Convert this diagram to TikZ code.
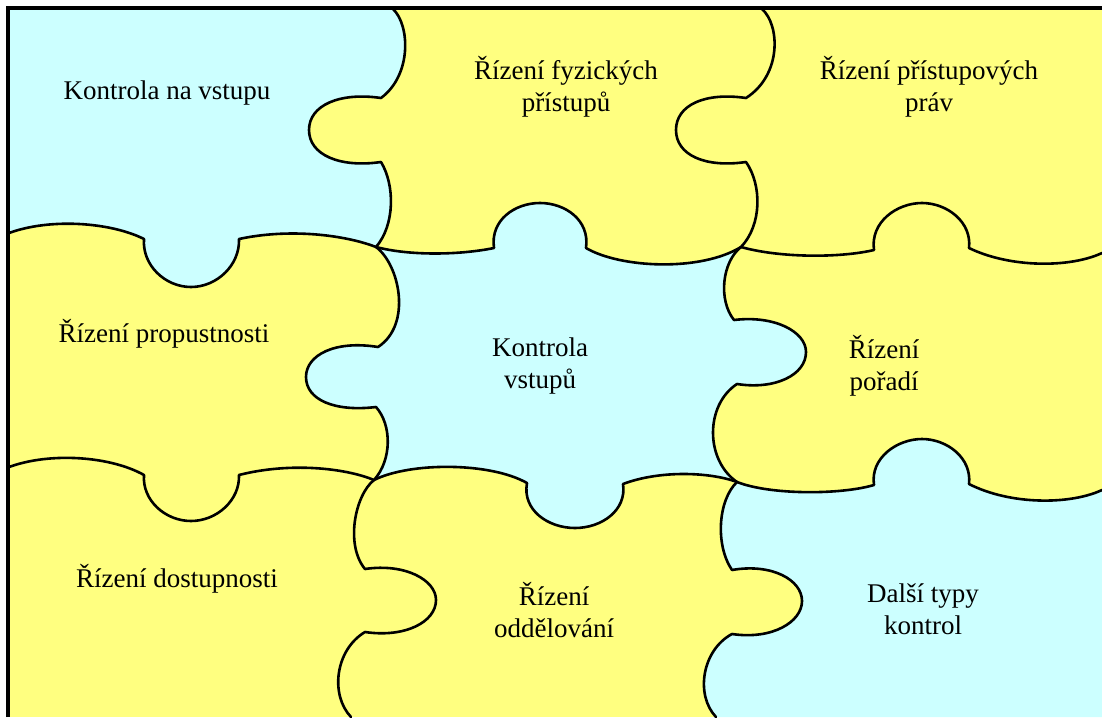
\documentclass[tikz,border=0pt]{standalone}
\usepackage{fontspec}
\setmainfont{Liberation Serif}
\definecolor{pyellow}{HTML}{FFFF80}
\definecolor{pcyan}{HTML}{CCFFFF}
\begin{document}
\begin{tikzpicture}[x=1pt,y=-1pt,
  seam/.style={line width=2.6pt, line join=round, line cap=round},
  frameline/.style={line width=3.6pt},
  lbl/.style={font=\fontsize{27}{32}\selectfont, align=center, inner sep=0pt, text=black}]
\useasboundingbox (0,0) rectangle (1102,717);
\fill[white] (0,0) rectangle (1102,717);
\fill[pyellow] (9,9) rectangle (1102,717);
% top-left cyan piece
\fill[pcyan] (9,9) -- (393,9)
  .. controls (410,25) and (412,75) .. (381,98)
  .. controls (340,92) and (309,105) .. (309,130)
  .. controls (309,155) and (340,168) .. (381,162)
  .. controls (395,185) and (395,225) .. (376,247)
  .. controls (345,235) and (290,228) .. (239,239)
  .. controls (240,265) and (217,287) .. (191,287)
  .. controls (165,287) and (142,265) .. (144,239)
  .. controls (110,222) and (50,218) .. (9,233) -- cycle;
% center cyan piece
\fill[pcyan] (376,247)
  .. controls (410,256) and (460,255) .. (494,248)
  .. controls (490,220) and (515,203) .. (540,203)
  .. controls (565,203) and (590,220) .. (586,248)
  .. controls (620,268) and (700,272) .. (741,247)
  .. controls (722,262) and (718,300) .. (734,320)
  .. controls (775,315) and (806,332) .. (806,352)
  .. controls (806,375) and (775,390) .. (737,384)
  .. controls (705,405) and (705,460) .. (737,482)
  .. controls (710,472) and (660,470) .. (623,484)
  .. controls (627,510) and (602,528) .. (575,528)
  .. controls (548,528) and (522,510) .. (527,483)
  .. controls (490,462) and (410,462) .. (374,480)
  .. controls (392,460) and (392,425) .. (376,407)
  .. controls (335,412) and (306,400) .. (306,377)
  .. controls (306,355) and (335,340) .. (378,347)
  .. controls (412,325) and (400,265) .. (376,247) -- cycle;
% bottom-right cyan piece
\fill[pcyan] (737,482)
  .. controls (770,495) and (840,495) .. (874,485)
  .. controls (870,458) and (897,439) .. (922,439)
  .. controls (947,439) and (972,458) .. (969,484)
  .. controls (1010,505) and (1070,505) .. (1102,490)
  -- (1102,717) -- (716,717)
  .. controls (695,695) and (702,650) .. (732,634)
  .. controls (772,640) and (802,622) .. (802,601)
  .. controls (802,580) and (772,563) .. (732,570)
  .. controls (715,545) and (718,500) .. (737,482) -- cycle;
% seams
\draw[seam] (393,9)
  .. controls (410,25) and (412,75) .. (381,98)
  .. controls (340,92) and (309,105) .. (309,130)
  .. controls (309,155) and (340,168) .. (381,162)
  .. controls (395,185) and (395,225) .. (376,247)
  .. controls (400,265) and (412,325) .. (378,347)
  .. controls (335,340) and (306,355) .. (306,377)
  .. controls (306,400) and (335,412) .. (376,407)
  .. controls (392,425) and (392,460) .. (374,480)
  .. controls (355,495) and (345,545) .. (365,569)
  .. controls (405,563) and (436,580) .. (436,600)
  .. controls (436,622) and (405,638) .. (365,632)
  .. controls (335,650) and (330,695) .. (351,717);
\draw[seam] (762,9)
  .. controls (780,25) and (782,75) .. (746,98)
  .. controls (705,92) and (676,105) .. (676,130)
  .. controls (676,155) and (705,168) .. (746,162)
  .. controls (762,185) and (762,225) .. (741,247)
  .. controls (722,262) and (718,300) .. (734,320)
  .. controls (775,315) and (806,332) .. (806,352)
  .. controls (806,375) and (775,390) .. (737,384)
  .. controls (705,405) and (705,460) .. (737,482)
  .. controls (718,500) and (715,545) .. (732,570)
  .. controls (772,563) and (802,580) .. (802,601)
  .. controls (802,622) and (772,640) .. (732,634)
  .. controls (702,650) and (695,695) .. (716,717);
\draw[seam] (9,233)
  .. controls (50,218) and (110,222) .. (144,239)
  .. controls (142,265) and (165,287) .. (191,287)
  .. controls (217,287) and (240,265) .. (239,239)
  .. controls (290,228) and (345,235) .. (376,247)
  .. controls (410,256) and (460,255) .. (494,248)
  .. controls (490,220) and (515,203) .. (540,203)
  .. controls (565,203) and (590,220) .. (586,248)
  .. controls (620,268) and (700,272) .. (741,247)
  .. controls (780,258) and (840,258) .. (874,250)
  .. controls (870,222) and (897,203) .. (922,203)
  .. controls (947,203) and (972,222) .. (969,248)
  .. controls (1010,268) and (1070,268) .. (1102,253);
\draw[seam] (9,467)
  .. controls (50,452) and (110,456) .. (144,475)
  .. controls (142,500) and (165,521) .. (191,521)
  .. controls (217,521) and (240,500) .. (239,475)
  .. controls (290,462) and (345,468) .. (374,480)
  .. controls (410,462) and (490,462) .. (527,483)
  .. controls (522,510) and (548,528) .. (575,528)
  .. controls (602,528) and (627,510) .. (623,484)
  .. controls (660,470) and (710,472) .. (737,482)
  .. controls (770,495) and (840,495) .. (874,485)
  .. controls (870,458) and (897,439) .. (922,439)
  .. controls (947,439) and (972,458) .. (969,484)
  .. controls (1010,505) and (1070,505) .. (1102,490);
% frame
\draw[frameline] (7.8,717) -- (7.8,7.8) -- (1102,7.8);
% labels
\node[lbl] (kv)  at (167,93)  {Kontrola na vstupu};
\node[lbl] (rfp) at (566,87)  {Řízení fyzických\\přístupů};
\node[lbl] (rpp) at (929,87)  {Řízení přístupových\\práv};
\node[lbl] (rpr) at (164,334) {Řízení propustnosti};
\node[lbl] (kvs) at (540,366) {Kontrola\\vstupů};
\node[lbl] (rpo) at (884,366) {Řízení\\pořadí};
\node[lbl] (rdo) at (177,579) {Řízení dostupnosti};
\node[lbl] (rod) at (554,610) {Řízení\\oddělování};
\node[lbl] (dtk) at (923,609) {Další typy\\kontrol};
\end{tikzpicture}
\end{document}
